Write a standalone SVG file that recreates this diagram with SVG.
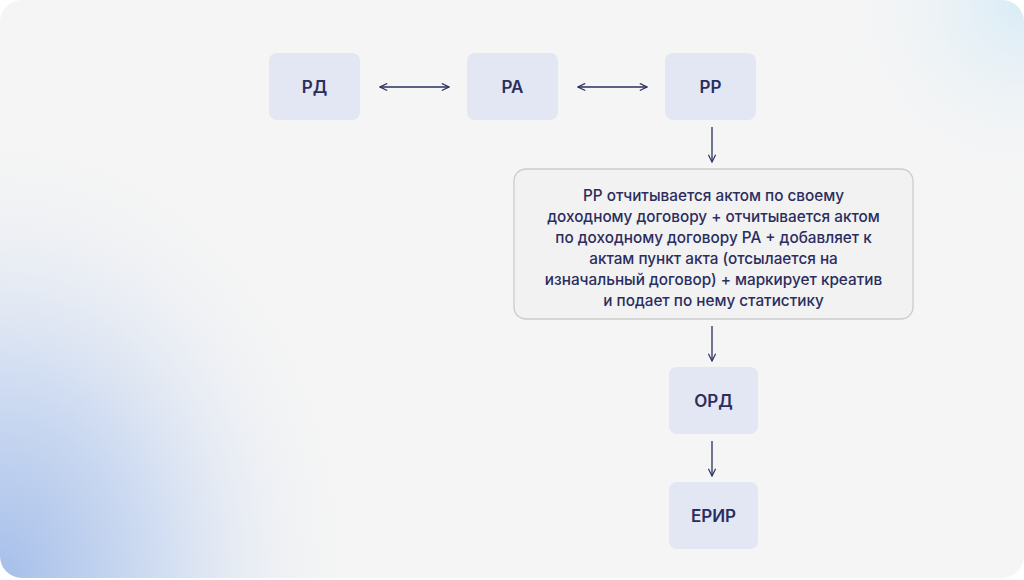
<svg xmlns="http://www.w3.org/2000/svg" width="1024" height="580" viewBox="0 0 1024 580">
<defs>
<radialGradient id="bl" cx="0" cy="1" r="0.8" gradientTransform="translate(0 0) scale(0.45 1)">
<stop offset="0" stop-color="#a6bfea"/><stop offset="0.45" stop-color="#d2def2"/><stop offset="1" stop-color="#f5f5f5" stop-opacity="0"/>
</radialGradient>
<radialGradient id="tr" cx="1" cy="0" r="0.35" gradientTransform="translate(0.45 0) scale(0.55 1)">
<stop offset="0" stop-color="#d8ecf7"/><stop offset="1" stop-color="#f5f5f5" stop-opacity="0"/>
</radialGradient>
<marker id="ah" viewBox="0 0 10 10" refX="9" refY="5" markerWidth="9" markerHeight="9" orient="auto-start-reverse" markerUnits="userSpaceOnUse">
<path d="M1 1 L9 5 L1 9" fill="none" stroke="#2b2d5e" stroke-width="1.3"/>
</marker>
<style>
.n{fill:#e2e7f3}
.t{font-family:Inter,"Noto Sans",sans-serif;font-weight:600;fill:#2b2d5e;text-anchor:middle}
.big{font-size:17px}
.sm{font-size:15.3px;font-weight:500}
.c{stroke:#2b2d5e;stroke-width:1.3;fill:none}
</style>
</defs>
<rect x="0" y="0" width="1024" height="578" rx="22" fill="#f5f5f5"/>
<rect x="0" y="0" width="1024" height="578" rx="22" fill="url(#bl)"/>
<rect x="0" y="0" width="1024" height="578" rx="22" fill="url(#tr)"/>
<g id="connectors">
<line class="c" x1="380" y1="87" x2="449" y2="87" marker-start="url(#ah)" marker-end="url(#ah)"/>
<line class="c" x1="578" y1="87" x2="647" y2="87" marker-start="url(#ah)" marker-end="url(#ah)"/>
<line class="c" x1="712" y1="127" x2="712" y2="162" marker-end="url(#ah)"/>
<line class="c" x1="712" y1="326" x2="712" y2="361" marker-end="url(#ah)"/>
<line class="c" x1="712" y1="441" x2="712" y2="476" marker-end="url(#ah)"/>
</g>
<g id="rd"><rect class="n" x="269" y="53" width="91" height="67" rx="8"/><text class="t big" x="314.5" y="93">РД</text></g>
<g id="ra"><rect class="n" x="467" y="53" width="91" height="67" rx="8"/><text class="t big" x="512.5" y="93">РА</text></g>
<g id="rr"><rect class="n" x="665" y="53" width="91" height="67" rx="8"/><text class="t big" x="710.5" y="93">РР</text></g>
<g id="desc"><rect x="514" y="169" width="399" height="150" rx="12" fill="#f2f2f2" stroke="#cccccc" stroke-width="1.3"/>
<text class="t sm" x="713.5"><tspan x="713.5" y="201">РР отчитывается актом по своему</tspan><tspan x="713.5" y="222">доходному договору + отчитывается актом</tspan><tspan x="713.5" y="243">по доходному договору РА + добавляет к</tspan><tspan x="713.5" y="264">актам пункт акта (отсылается на</tspan><tspan x="713.5" y="285">изначальный договор) + маркирует креатив</tspan><tspan x="713.5" y="306">и подает по нему статистику</tspan></text></g>
<g id="ord"><rect class="n" x="669" y="367" width="89" height="67" rx="8"/><text class="t big" x="713.5" y="407">ОРД</text></g>
<g id="erir"><rect class="n" x="669" y="482" width="89" height="67" rx="8"/><text class="t big" x="713.5" y="522">ЕРИР</text></g>
</svg>
